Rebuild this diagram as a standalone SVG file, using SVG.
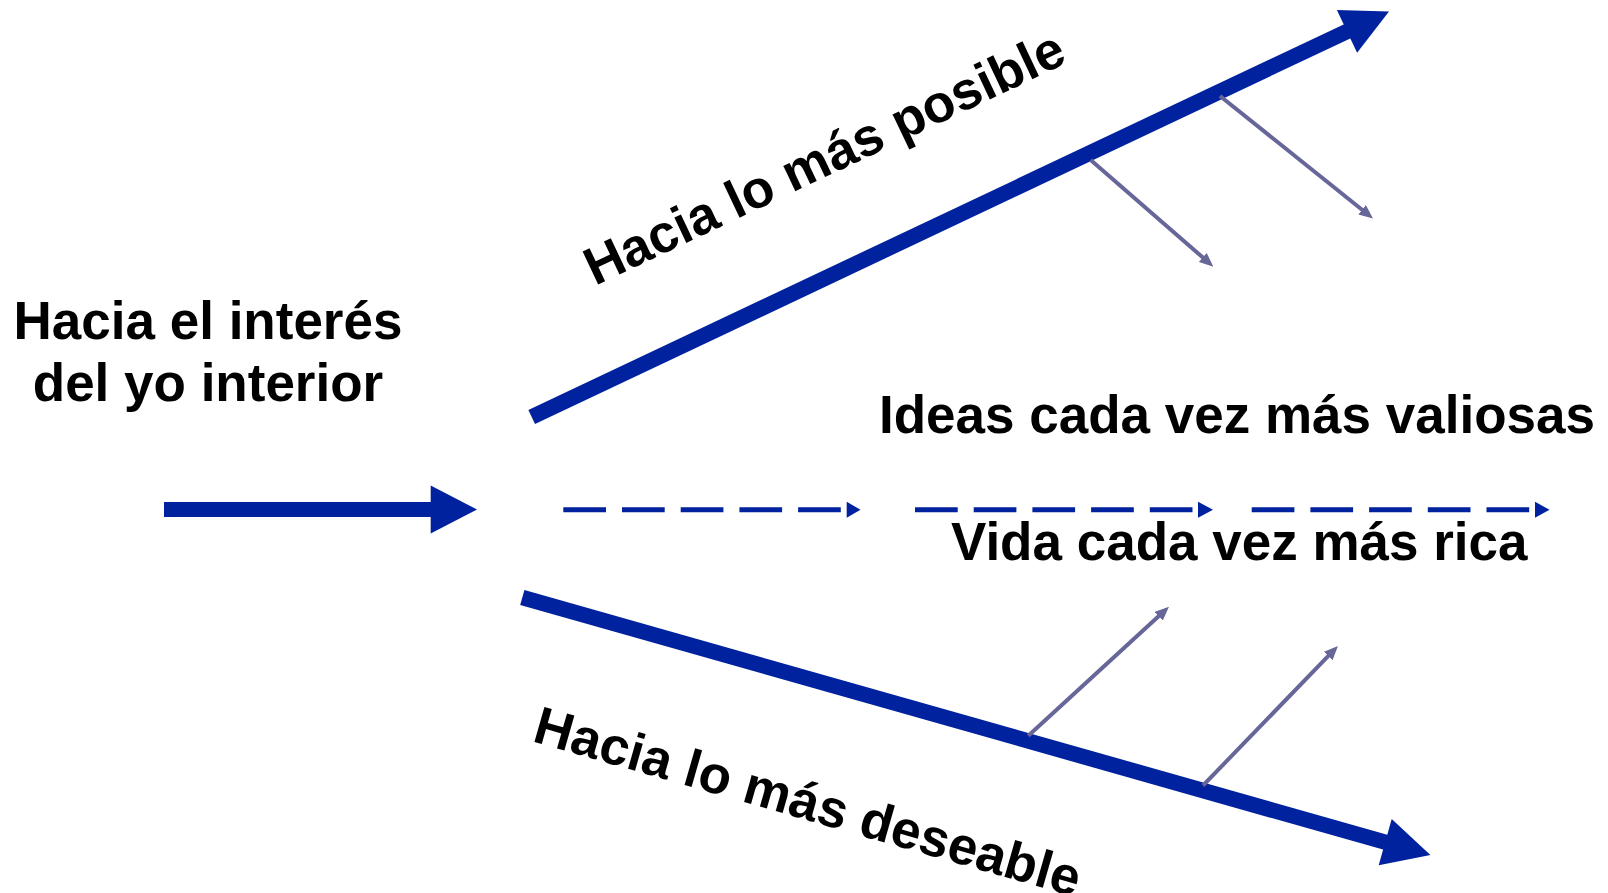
<svg xmlns="http://www.w3.org/2000/svg" width="1608" height="893" viewBox="0 0 1608 893">
  <style>
    .lbl { font-family: "Liberation Sans", Arial, sans-serif; font-weight: bold; font-size: 53px; fill: #000; }
    .thick { stroke: #00229F; stroke-width: 15.5; fill: none; }
    .head { fill: #00229F; stroke: none; }
    .dash { stroke: #00229F; stroke-width: 5; stroke-dasharray: 42.7 16; fill: none; }
    .thin { stroke: #666699; stroke-width: 4; fill: none; marker-end: url(#sm); }
  </style>
  <defs>
    <marker id="sm" markerUnits="userSpaceOnUse" markerWidth="14" markerHeight="12" refX="4" refY="6" orient="auto" viewBox="0 0 14 12">
      <path d="M0,0 L14,6 L0,12 z" fill="#666699"/>
    </marker>
  </defs>
  <g id="connectors">
    <line class="thick" x1="164" y1="509.5" x2="432" y2="509.5" style="stroke-width:15"/>
    <polygon class="head" points="430.7,485.5 477,509.5 430.7,533.5"/>
    <line class="thick" x1="531.7" y1="417" x2="1348" y2="30.9"/>
    <polygon class="head" points="1336.9,9.9 1389,11.4 1357.1,52.7"/>
    <line class="thick" x1="522.3" y1="597.5" x2="1386" y2="842.4"/>
    <polygon class="head" points="1391.7,819.1 1430.4,855 1378.7,865.3"/>
    <line class="dash" x1="563.3" y1="509.7" x2="841" y2="509.7"/>
    <polygon class="head" points="846.7,501.7 860.5,509.7 846.7,517.7"/>
    <line class="dash" x1="915" y1="509.7" x2="1192.7" y2="509.7"/>
    <polygon class="head" points="1198,501.7 1213,509.7 1198,517.7"/>
    <line class="dash" x1="1251.7" y1="509.7" x2="1529.4" y2="509.7"/>
    <polygon class="head" points="1535,501.7 1549.5,509.7 1535,517.7"/>
    <line class="thin" x1="1090.7" y1="160" x2="1205.8" y2="260.1"/>
    <line class="thin" x1="1220" y1="96" x2="1365.2" y2="212.2"/>
    <line class="thin" x1="1028.3" y1="735.7" x2="1161.6" y2="613.5"/>
    <line class="thin" x1="1203" y1="785.5" x2="1331" y2="653.2"/>
  </g>
  <g id="node-origin">
    <text class="lbl" text-anchor="middle" x="208" y="339">Hacia el interés</text>
    <text class="lbl" text-anchor="middle" x="208" y="401">del yo interior</text>
  </g>
  <g id="node-posible">
    <text class="lbl" transform="translate(595,286) rotate(-25.3)">Hacia lo más posible</text>
  </g>
  <g id="node-deseable">
    <text class="lbl" transform="translate(531,741) rotate(16)">Hacia lo más deseable</text>
  </g>
  <g id="node-ideas">
    <text class="lbl" x="879" y="433">Ideas cada vez más valiosas</text>
  </g>
  <g id="node-vida">
    <text class="lbl" x="951" y="560">Vida cada vez más rica</text>
  </g>
</svg>
